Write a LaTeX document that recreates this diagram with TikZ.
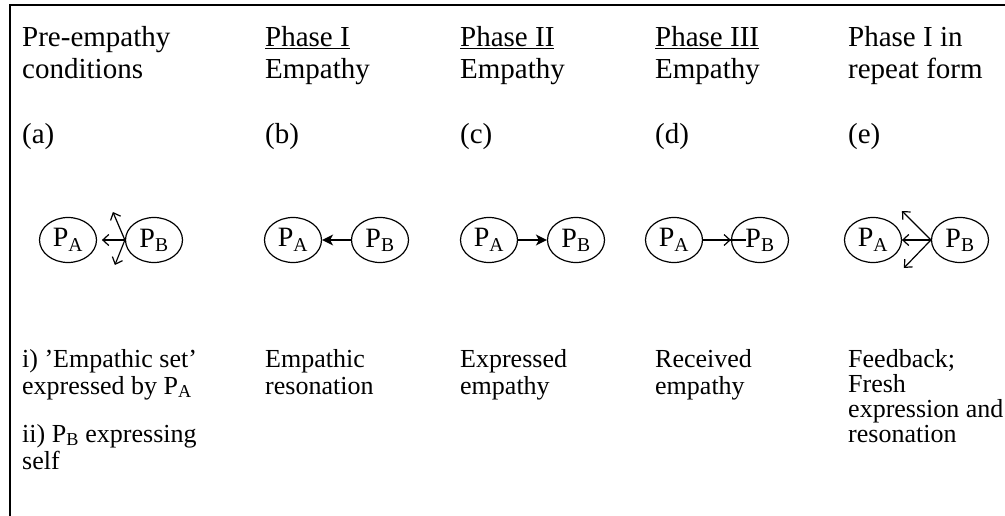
\documentclass[tikz,border=0pt]{standalone}
\usepackage{fontspec}
\setmainfont{Liberation Serif}
\usetikzlibrary{arrows.meta,shapes.geometric}
\begin{document}
\begin{tikzpicture}[x=1pt,y=-1pt,
  head/.style={anchor=base west,inner sep=0pt,font=\fontsize{29}{32}\selectfont},
  desc/.style={anchor=base west,inner sep=0pt,align=left,font=\fontsize{26}{27}\selectfont},
  person/.style={ellipse,draw,line width=1.2pt,minimum width=57pt,minimum height=45pt,
    inner sep=0pt,font=\fontsize{28}{30}\selectfont},
  barb/.style={line width=1.2pt,-{Straight Barb[length=6pt,width=11pt]}},
  solid head/.style={line width=1.5pt,-{Stealth[length=11pt,width=11pt,inset=3pt]}}]
\useasboundingbox (0,0) rectangle (1005,516);
% frame: left and top rules
\draw[line width=1.5pt] (10,516) -- (10,5) -- (1005,5);

% column headings
\node[head] (ha1) at (22,47) {Pre-empathy};
\node[head] (ha2) at (22,79) {conditions};
\node[head] (hb1) at (265,47) {\underline{Phase I}};
\node[head] (hb2) at (265,79) {Empathy};
\node[head] (hc1) at (460,47) {\underline{Phase II}};
\node[head] (hc2) at (460,79) {Empathy};
\node[head] (hd1) at (655,47) {\underline{Phase III}};
\node[head] (hd2) at (655,79) {Empathy};
\node[head] (he1) at (848,47) {Phase I in};
\node[head] (he2) at (848,79) {repeat form};

% case letters
\node[head] (la) at (22,144) {(a)};
\node[head] (lb) at (265,144) {(b)};
\node[head] (lc) at (460,144) {(c)};
\node[head] (ld) at (655,144) {(d)};
\node[head] (le) at (848,144) {(e)};

% persons
\node[person] (aA) at (68,240) {P\textsubscript{A}};
\node[person] (aB) at (154,240) {P\textsubscript{B}};
\node[person] (bA) at (293,240) {P\textsubscript{A}};
\node[person] (bB) at (380,240) {P\textsubscript{B}};
\node[person] (cA) at (489,240) {P\textsubscript{A}};
\node[person] (cB) at (576,240) {P\textsubscript{B}};
\node[person] (dA) at (674,240) {P\textsubscript{A}};
\node[person] (dB) at (760,240) {P\textsubscript{B}};
\node[person] (eA) at (873,240) {P\textsubscript{A}};
\node[person] (eB) at (960,240) {P\textsubscript{B}};

% (a) P_B sends out in several directions
\draw[barb] (aB.west) -- ++(-23,0);
\draw[barb] (aB.west) -- ++(-12,-28);
\draw[barb] (aB.west) -- ++(-10,25);
% (b) resonation
\draw[solid head] (bB.west) -- (bA.east);
% (c) expression
\draw[solid head] (cA.east) -- (cB.west);
% (d) reception: the line runs on into P_B
\draw[line width=1.2pt] (dA.east) -- ([xshift=15pt]dB.west);
\draw[barb] (dA.east) -- (dB.west);
% (e) feedback
\draw[barb] (eB.west) -- ++(-29,0);
\draw[barb] (eB.west) -- ++(-29,-29);
\draw[barb] (eB.west) -- ++(-27,28);

% descriptions (anchored on the baseline of their last line)
\node[desc] (da1) at (22,394) {i) ’Empathic set’\\expressed by P\textsubscript{A}};
\node[desc] (da2) at (22,469) {ii) P\textsubscript{B} expressing\\self};
\node[desc] (db) at (265,394) {Empathic\\resonation};
\node[desc] (dc) at (460,394) {Expressed\\empathy};
\node[desc] (dd) at (655,394) {Received\\empathy};
\node[desc,font=\fontsize{26}{25}\selectfont] (de) at (848,442)
  {Feedback;\\Fresh\\expression and\\resonation};
\end{tikzpicture}
\end{document}
